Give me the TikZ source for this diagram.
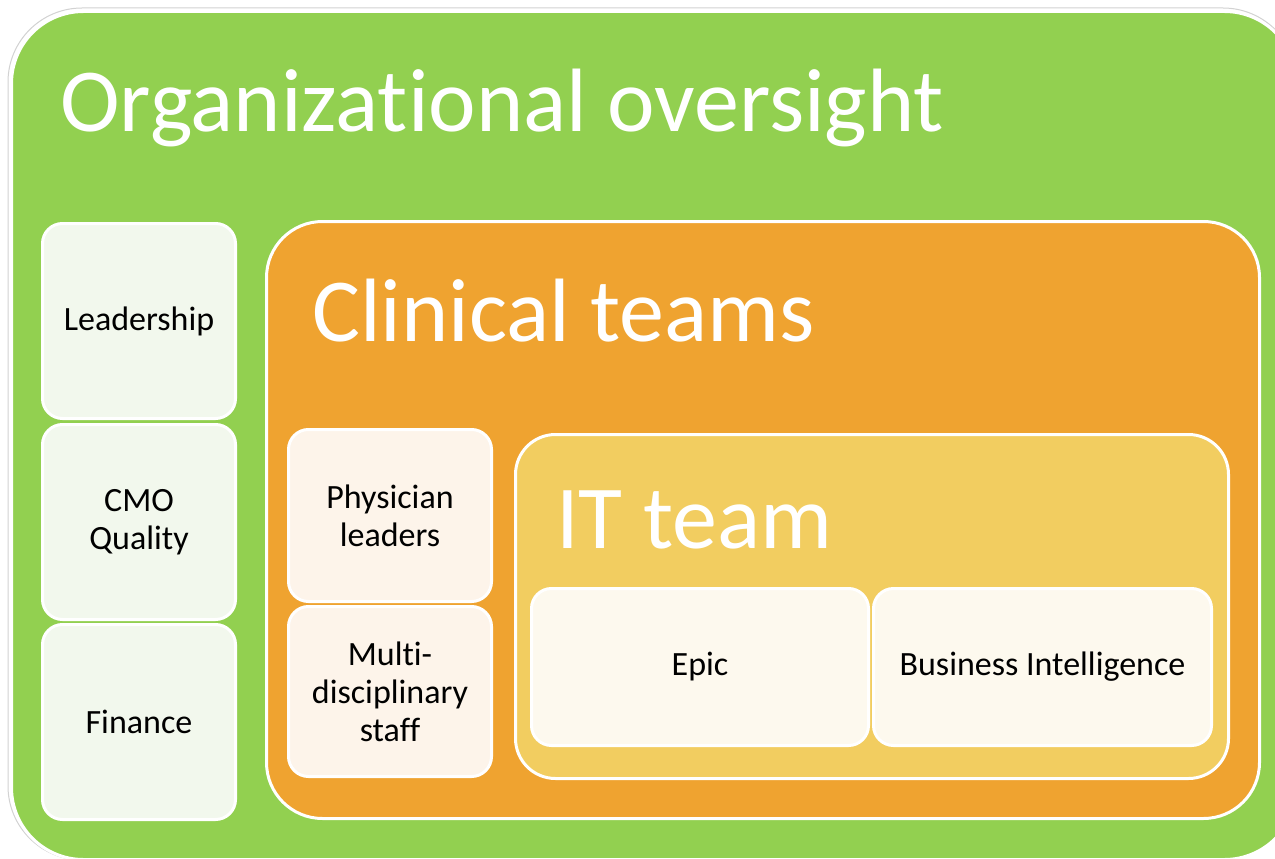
\documentclass[tikz,border=0pt]{standalone}
\usepackage{fontspec}
\setmainfont{Carlito}[Ligatures=NoCommon]
\definecolor{leaf}{RGB}{146,208,80}
\definecolor{amber}{RGB}{239,163,48}
\definecolor{sand}{RGB}{242,205,96}
\definecolor{palegreen}{RGB}{242,248,237}
\definecolor{cream}{RGB}{253,244,234}
\definecolor{ivory}{RGB}{253,249,238}
\begin{document}
\begin{tikzpicture}[x=1pt,y=-1pt,
  panel/.style={draw=white, line width=3pt, inner sep=0pt, anchor=north west},
  tile/.style={panel, rounded corners=20pt, align=center, text=black,
    font=\fontsize{34}{38}\selectfont},
  heading/.style={anchor=base west, inner sep=0pt, text=white,
    font=\fontsize{90}{100}\selectfont}]
\useasboundingbox (0,0) rectangle (1275,859);
\fill[white] (0,0) rectangle (1275,859);

% outermost frame: organisational oversight
\draw[gray!35, line width=1pt, rounded corners=74pt] (8,8) rectangle (1297,860);
\node[panel, fill=leaf, rounded corners=72pt,
  minimum width=1285pt, minimum height=848pt] (org) at (10,10) {};
\node[heading] (orgT) at (60,131) {Organizational oversight};

% governance column
\node[tile, fill=palegreen, minimum width=193pt, minimum height=195pt] (lead) at (41,222) {Leadership};
\node[tile, fill=palegreen, minimum width=193pt, minimum height=195pt] (cmo) at (41,423) {CMO\\Quality};
\node[tile, fill=palegreen, minimum width=193pt, minimum height=195pt] (fin) at (41,623) {Finance};

% clinical teams
\node[panel, fill=amber, rounded corners=56pt,
  minimum width=993pt, minimum height=597pt] (clin) at (265,220) {};
\node[heading] (clinT) at (312,341) {Clinical teams};
\node[tile, fill=cream, minimum width=203pt, minimum height=172pt] (phys) at (287,428) {Physician\\leaders};
\node[tile, fill=cream, minimum width=203pt, minimum height=170pt] (multi) at (287,605) {Multi-\\disciplinary\\staff};

% IT team
\node[panel, fill=sand, rounded corners=40pt,
  minimum width=713pt, minimum height=344pt] (it) at (514,433) {};
\node[heading] (itT) at (556,548) {IT team};
\node[tile, fill=ivory, minimum width=337pt, minimum height=157pt] (epic) at (530,587) {Epic};
\node[tile, fill=ivory, minimum width=338pt, minimum height=157pt] (bi) at (872,587) {Business Intelligence};
\end{tikzpicture}
\end{document}
